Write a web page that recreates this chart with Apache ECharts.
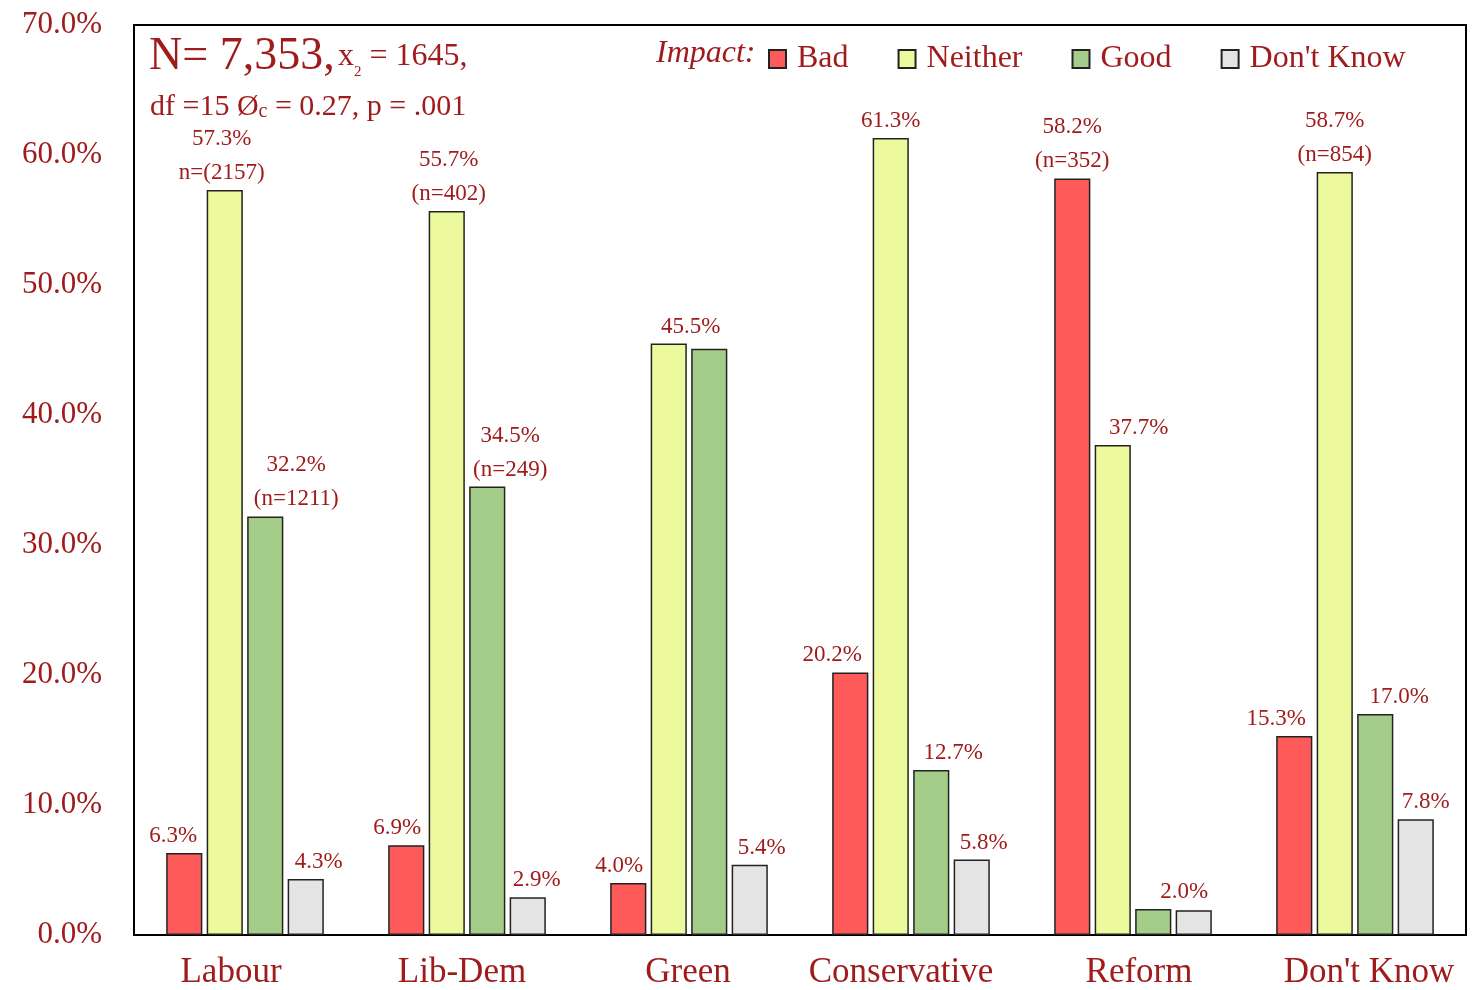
<!DOCTYPE html>
<html>
<head>
<meta charset="utf-8">
<script src="https://cdn.jsdelivr.net/npm/echarts@6/dist/echarts.min.js"></script>
<style>
  html, body { margin: 0; padding: 0; background: #fff; }
  #chart { width: 1476px; height: 990px; }
</style>
</head>
<body>
<div id="chart"></div>
<script>
// data
const parties = ['Labour', 'Lib-Dem', 'Green', 'Conservative', 'Reform', "Don't Know"];
const impacts = ['Bad', 'Neither', 'Good', "Don't Know"];

const bad     = [6.3, 6.9, 4.0, 20.2, 58.2, 15.3];
const neither = [57.3, 55.7, 45.5, 61.3, 37.7, 58.7];
const good    = [32.2, 34.5, 45.1, 12.7, 2.0, 17.0];
const dontKnow = [4.3, 2.9, 5.4, 5.8, 1.9, 8.9];

// label texts as printed on the chart ('' = no label)
const badLabels     = ['6.3%', '6.9%', '4.0%', '20.2%', '58.2%\n(n=352)', '15.3%'];
const neitherLabels = ['57.3%\nn=(2157)', '55.7%\n(n=402)', '45.5%', '61.3%', '37.7%', '58.7%\n(n=854)'];
const goodLabels    = ['32.2%\n(n=1211)', '34.5%\n(n=249)', '', '12.7%', '2.0%', '17.0%'];
const dkLabels      = ['4.3%', '2.9%', '5.4%', '5.8%', '', '7.8%'];

const yTicks = [0, 10, 20, 30, 40, 50, 60, 70];

// horizontal nudges of the labels (px)
const badShift     = [-11, -9, -9, -18, 0, -18];
const neitherShift = [-3, 2, 22, 0, 26, 0];
const goodShift    = [31, 23, 0, 22, 31, 24];
const dkShift      = [13, 9, 12, 12, 0, 10];
const catShift     = [-14, -5, -1, -10, 6, 14];

const RED = '#a01c1c';
const FONT = '"Liberation Serif", "DejaVu Serif", serif';

function mkSeries(name, values, labels, shifts, color) {
  return {
    name: name,
    type: 'bar',
    barGap: '12%',
    barCategoryGap: '29%',
    itemStyle: { color: color, borderColor: '#222', borderWidth: 1.5 },
    data: values.map((v, i) => ({
      value: v,
      label: {
        show: labels[i] !== '',
        position: 'top',
        distance: 0,
        offset: [shifts[i], 0],
        formatter: labels[i],
        color: RED,
        fontFamily: FONT,
        fontSize: 23,
        lineHeight: 34
      }
    }))
  };
}

const catRich = {};
catShift.forEach((s, i) => {
  catRich['c' + i] = {
    color: RED, fontFamily: FONT, fontSize: 35,
    padding: s < 0 ? [0, -2 * s, 0, 0] : [0, 0, 0, 2 * s]
  };
});

let chart = echarts.init(document.getElementById('chart'));
const option = {
  animation: false,
  grid: {
    left: 134, right: 10, top: 25, bottom: 55,
    show: true, borderColor: '#000', borderWidth: 2
  },
  legend: {
    data: impacts,
    left: 768,
    top: 43,
    padding: 0,
    itemWidth: 17,
    itemHeight: 18,
    itemGap: 49,
    icon: 'rect',
    textStyle: { color: RED, fontFamily: FONT, fontSize: 32, padding: [0, 0, 0, 6] }
  },
  graphic: [
    {
      type: 'text', left: 149, top: 34,
      style: {
        text: '{a|N= 7,353,} {b|x}{s|2}{b| = 1645,}',
        rich: {
          a: { fontSize: 46, fill: RED, fontFamily: FONT },
          b: { fontSize: 32, fill: RED, fontFamily: FONT },
          s: { fontSize: 15, fill: RED, fontFamily: FONT, verticalAlign: 'bottom' }
        }
      }
    },
    {
      type: 'text', left: 150, top: 92,
      style: {
        text: '{b|df =15 Ø}{s|c}{b| = 0.27, p = .001}',
        rich: {
          b: { fontSize: 30, fill: RED, fontFamily: FONT },
          s: { fontSize: 20, fill: RED, fontFamily: FONT, verticalAlign: 'bottom' }
        }
      }
    },
    {
      type: 'text', left: 656, top: 38,
      style: { text: 'Impact:', fill: RED, fontFamily: FONT, fontSize: 32, fontStyle: 'italic' }
    }
  ],
  xAxis: {
    type: 'category',
    data: parties,
    axisLine: { lineStyle: { color: '#000', width: 2 } },
    axisTick: { show: false },
    axisLabel: {
      interval: 0,
      hideOverlap: false,
      color: RED, fontFamily: FONT, fontSize: 35, margin: 20,
      formatter: (v, i) => '{c' + i + '|' + v + '}',
      rich: catRich
    }
  },
  yAxis: {
    type: 'value',
    min: yTicks[0],
    max: yTicks[yTicks.length - 1],
    interval: 10,
    splitLine: { show: false },
    axisLine: { show: true, lineStyle: { color: '#000', width: 2 } },
    axisTick: { show: false },
    axisLabel: {
      color: RED, fontFamily: FONT, fontSize: 31, margin: 32,
      formatter: v => v.toFixed(1) + '%'
    }
  },
  series: [
    mkSeries(impacts[0], bad, badLabels, badShift, '#ff5a5a'),
    mkSeries(impacts[1], neither, neitherLabels, neitherShift, '#ecf99c'),
    mkSeries(impacts[2], good, goodLabels, goodShift, '#a5cd8a'),
    mkSeries(impacts[3], dontKnow, dkLabels, dkShift, '#e4e4e4')
  ]
};
chart.setOption(option);
</script>
</body>
</html>
